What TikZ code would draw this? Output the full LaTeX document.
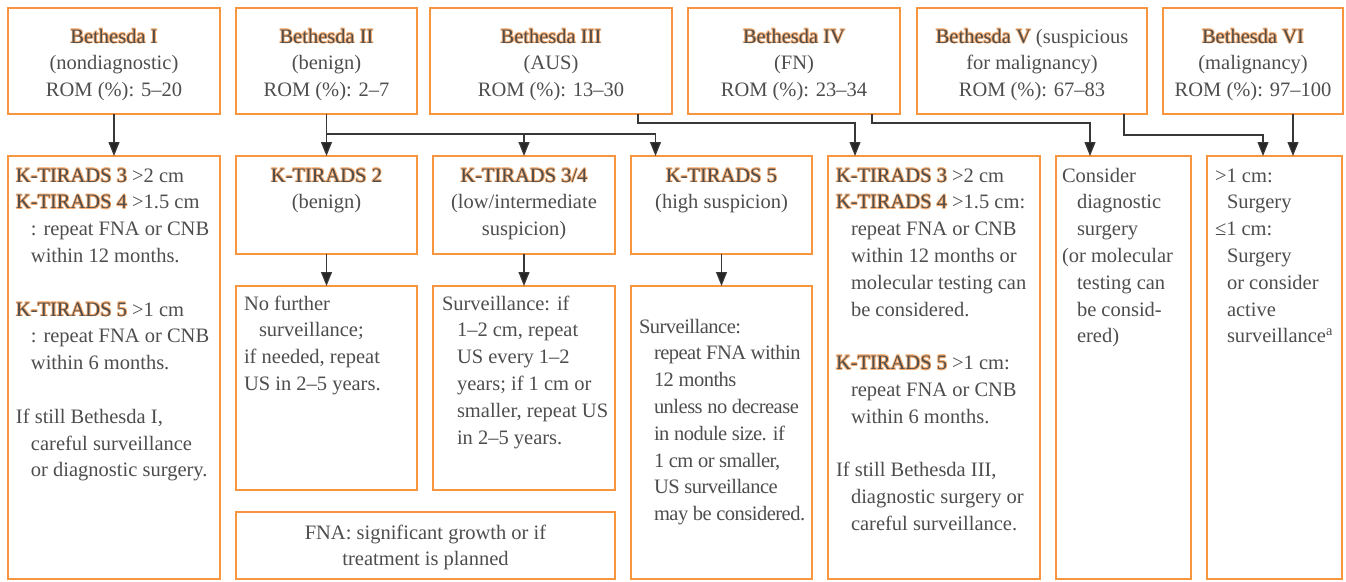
\documentclass[tikz,border=0pt]{standalone}
\usepackage{fontspec}
\setmainfont{Liberation Serif}
\newfontfamily\tightfont[LetterSpace=-2.5]{Liberation Serif}
\usetikzlibrary{arrows.meta,calc}
\definecolor{ink}{HTML}{4D4D4D}
\definecolor{boxc}{HTML}{F7963F}
\definecolor{glow}{HTML}{F8AE72}
\definecolor{linec}{HTML}{383838}
\newcommand{\glowcopy}[3]{\rlap{\hspace*{#1}\raisebox{#2}{\color{glow}#3}}}
\newcommand{\hl}[1]{\glowcopy{0.9pt}{0pt}{#1}\glowcopy{-0.9pt}{0pt}{#1}\glowcopy{0pt}{0.9pt}{#1}\glowcopy{0pt}{-0.9pt}{#1}\glowcopy{0.65pt}{0.65pt}{#1}\glowcopy{-0.65pt}{0.65pt}{#1}\glowcopy{0.65pt}{-0.65pt}{#1}\glowcopy{-0.65pt}{-0.65pt}{#1}#1}
\newcommand{\ind}{\hspace*{15pt}}
\newcommand{\indb}{\hspace*{12pt}}
\begin{document}
\begin{tikzpicture}[x=1pt,y=-1pt,
  box/.style={draw=boxc,line width=1.2pt,inner sep=0pt,outer sep=0pt,anchor=north west},
  txt/.style={inner sep=0pt,outer sep=0pt,text=ink,font=\fontsize{20.5}{26.8}\selectfont},
  conn/.style={draw=linec,line width=1.2pt},
  arr/.style={conn,-{Triangle[width=11pt,length=14pt,fill=black!85]}}]
\useasboundingbox (0,0) rectangle (1346,581);
% top row
\node[box,minimum width=212pt,minimum height=106pt] (b1) at (8,8) {};
\node[box,minimum width=181pt,minimum height=106pt] (b2) at (236,8) {};
\node[box,minimum width=242pt,minimum height=106pt] (b3) at (430,8) {};
\node[box,minimum width=212pt,minimum height=106pt] (b4) at (688,8) {};
\node[box,minimum width=230pt,minimum height=106pt] (b5) at (917,8) {};
\node[box,minimum width=180pt,minimum height=106pt] (b6) at (1163,8) {};
\node[txt,anchor=base] (b1t) at ([yshift=-35pt]b1.north) {\begin{tabular}[t]{@{}c@{}}\hl{Bethesda I}\\(nondiagnostic)\\ROM (\%): 5–20\end{tabular}};
\node[txt,anchor=base] (b2t) at ([yshift=-35pt]b2.north) {\begin{tabular}[t]{@{}c@{}}\hl{Bethesda II}\\(benign)\\ROM (\%): 2–7\end{tabular}};
\node[txt,anchor=base] (b3t) at ([yshift=-35pt]b3.north) {\begin{tabular}[t]{@{}c@{}}\hl{Bethesda III}\\(AUS)\\ROM (\%): 13–30\end{tabular}};
\node[txt,anchor=base] (b4t) at ([yshift=-35pt]b4.north) {\begin{tabular}[t]{@{}c@{}}\hl{Bethesda IV}\\(FN)\\ROM (\%): 23–34\end{tabular}};
\node[txt,anchor=base] (b5t) at ([yshift=-35pt]b5.north) {\begin{tabular}[t]{@{}c@{}}\hl{Bethesda V} (suspicious\\for malignancy)\\ROM (\%): 67–83\end{tabular}};
\node[txt,anchor=base] (b6t) at ([yshift=-35pt]b6.north) {\begin{tabular}[t]{@{}c@{}}\hl{Bethesda VI}\\(malignancy)\\ROM (\%): 97–100\end{tabular}};
% second row
\node[box,minimum width=212pt,minimum height=423pt] (c1) at (8,156) {};
\node[box,minimum width=181pt,minimum height=98pt] (k2) at (236,156) {};
\node[box,minimum width=182pt,minimum height=98pt] (k34) at (433,156) {};
\node[box,minimum width=181pt,minimum height=98pt] (k5) at (631,156) {};
\node[box,minimum width=181pt,minimum height=204pt] (s2) at (236,286) {};
\node[box,minimum width=182pt,minimum height=204pt] (s34) at (433,286) {};
\node[box,minimum width=379pt,minimum height=67pt] (fna) at (236,512) {};
\node[box,minimum width=181pt,minimum height=293pt] (s5) at (631,286) {};
\node[box,minimum width=212pt,minimum height=423pt] (c3) at (828,156) {};
\node[box,minimum width=135pt,minimum height=423pt] (c4) at (1056,156) {};
\node[box,minimum width=135pt,minimum height=423pt] (c6) at (1207,156) {};
% texts
\node[txt,anchor=base west] (c1t) at ([shift={(8,26)}]c1.north west) {\begin{tabular}[t]{@{}l@{}}
\hl{K-TIRADS 3} >2 cm\\
\hl{K-TIRADS 4} >1.5 cm\\
\ind: repeat FNA or CNB\\
\ind within 12 months.\\
\\
\hl{K-TIRADS 5} >1 cm\\
\ind: repeat FNA or CNB\\
\ind within 6 months.\\
\\
If still Bethesda I,\\
\ind careful surveillance\\
\ind or diagnostic surgery.
\end{tabular}};
\node[txt,anchor=base] (k2t) at ([yshift=-26pt]k2.north) {\begin{tabular}[t]{@{}c@{}}\hl{K-TIRADS 2}\\(benign)\end{tabular}};
\node[txt,anchor=base] (k34t) at ([yshift=-26pt]k34.north) {\begin{tabular}[t]{@{}c@{}}\hl{K-TIRADS 3/4}\\(low/intermediate\\suspicion)\end{tabular}};
\node[txt,anchor=base] (k5t) at ([yshift=-26pt]k5.north) {\begin{tabular}[t]{@{}c@{}}\hl{K-TIRADS 5}\\(high suspicion)\end{tabular}};
\node[txt,anchor=base west] (s2t) at ([shift={(8,24)}]s2.north west) {\begin{tabular}[t]{@{}l@{}}
No further\\
\ind surveillance;\\
if needed, repeat\\
US in 2–5 years.
\end{tabular}};
\node[txt,anchor=base west] (s34t) at ([shift={(9,24)}]s34.north west) {\begin{tabular}[t]{@{}l@{}}
Surveillance: if\\
\ind 1–2 cm, repeat\\
\ind US every 1–2\\
\ind years; if 1 cm or\\
\ind smaller, repeat US\\
\ind in 2–5 years.
\end{tabular}};
\node[txt,anchor=base] (fnat) at ([yshift=-27pt]fna.north) {\begin{tabular}[t]{@{}c@{}}FNA: significant growth or if\\treatment is planned\end{tabular}};
\node[txt,anchor=base west] (s5t) at ([shift={(8,47)}]s5.north west) {\tightfont\begin{tabular}[t]{@{}l@{}}
Surveillance:\\
\ind repeat FNA within\\
\ind 12 months\\
\ind unless no decrease\\
\ind in nodule size. if\\
\ind 1 cm or smaller,\\
\ind US surveillance\\
\ind may be considered.
\end{tabular}};
\node[txt,anchor=base west] (c3t) at ([shift={(8,26)}]c3.north west) {\begin{tabular}[t]{@{}l@{}}
\hl{K-TIRADS 3} >2 cm\\
\hl{K-TIRADS 4} >1.5 cm:\\
\ind repeat FNA or CNB\\
\ind within 12 months or\\
\ind molecular testing can\\
\ind be considered.\\
\\
\hl{K-TIRADS 5} >1 cm:\\
\ind repeat FNA or CNB\\
\ind within 6 months.\\
\\
If still Bethesda III,\\
\ind diagnostic surgery or\\
\ind careful surveillance.
\end{tabular}};
\node[txt,anchor=base west] (c4t) at ([shift={(6,26)}]c4.north west) {\begin{tabular}[t]{@{}l@{}}
Consider\\
\ind diagnostic\\
\ind surgery\\
(or molecular\\
\ind testing can\\
\ind be consid-\\
\ind ered)
\end{tabular}};
\node[txt,anchor=base west] (c6t) at ([shift={(8,26)}]c6.north west) {\begin{tabular}[t]{@{}l@{}}
>1 cm:\\
\indb Surgery\\
≤1 cm:\\
\indb Surgery\\
\indb or consider\\
\indb active\\
\indb surveillance\textsuperscript{a}
\end{tabular}};
% connectors
\draw[arr] (b1.south) -- (c1.north);
\draw[arr] (b2.south) -- (k2.north);
\coordinate (j2) at ($(b2.south)+(0,20)$);
\draw[arr] (j2) -| ([xshift=-66pt]k5.north);
\draw[arr] (j2 -| k34.north) -- (k34.north);
\draw[arr] (k2.south) -- (s2.north);
\draw[arr] (k34.south) -- (s34.north);
\draw[arr] (k5.south) -- (s5.north);
\draw[arr] ([xshift=87pt]b3.south) -- ++(0,9) -| ([xshift=-79pt]c3.north);
\draw[arr] ([xshift=78pt]b4.south) -- ++(0,9) -| ([xshift=-33.5pt]c4.north);
\draw[arr] ([xshift=92pt]b5.south) -- ++(0,21) -| ([xshift=-11.5pt]c6.north);
\draw[arr] ([xshift=40pt]b6.south) -- ([xshift=40pt]b6.south |- c6.north);
\end{tikzpicture}
\end{document}
